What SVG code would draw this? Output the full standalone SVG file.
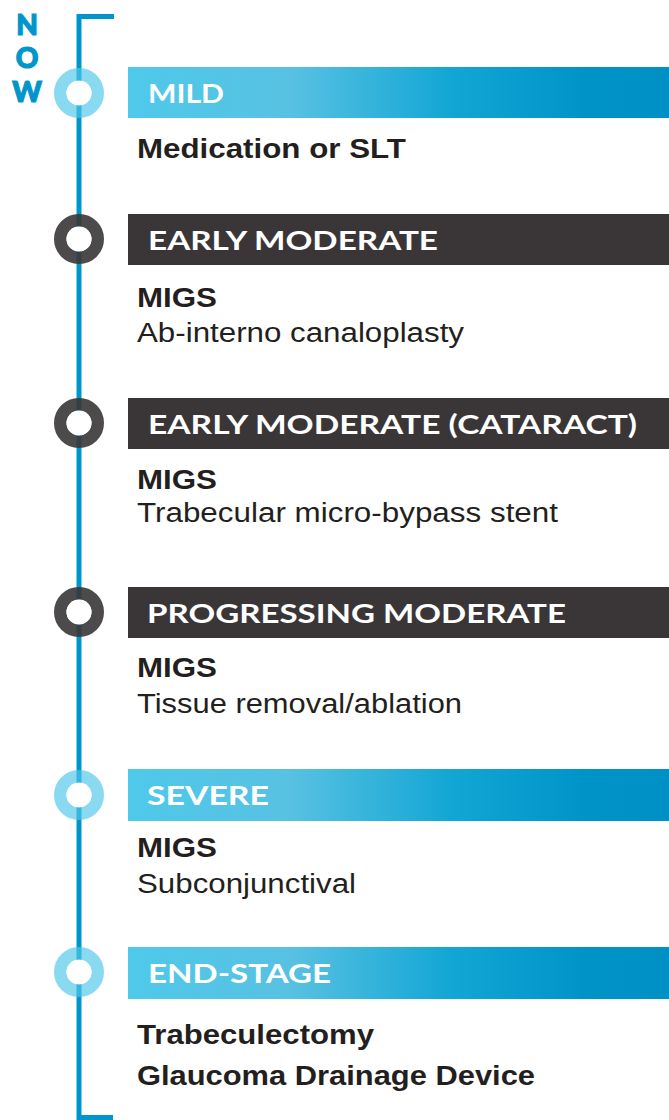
<svg xmlns="http://www.w3.org/2000/svg" width="669" height="1120" viewBox="0 0 669 1120">
<defs>
<linearGradient id="blueGrad" x1="0" y1="0" x2="1" y2="0">
<stop offset="0" stop-color="#4FC9EA"/>
<stop offset="0.3" stop-color="#58C1E2"/>
<stop offset="0.6" stop-color="#12A6D4"/>
<stop offset="0.85" stop-color="#0093C8"/>
<stop offset="1" stop-color="#0090C6"/>
</linearGradient>
<style>
.bannerB{fill:url(#blueGrad);}
.bannerD{fill:#3A3637;}
.label{font-family:Lato,"Open Sans",sans-serif;font-weight:700;font-size:27px;fill:#FFFFFF;}
.bold{font-family:"Liberation Sans",Arial,sans-serif;font-weight:700;font-size:27px;fill:#231F20;}
.reg{font-family:"Liberation Sans",Arial,sans-serif;font-weight:400;font-size:27px;fill:#231F20;}
.now{font-family:Lato,"Open Sans",sans-serif;font-weight:900;font-size:28px;fill:#0096CB;stroke:#0096CB;stroke-width:1.2px;}
.ringL{fill:none;stroke:#4FC6EA;stroke-opacity:0.67;stroke-width:12.5;}
.ringD{fill:none;stroke:#3A3637;stroke-opacity:0.9;stroke-width:12.5;}
.hole{fill:#FFFFFF;}
</style>
</defs>
<rect width="669" height="1120" fill="#FFFFFF"/>
<g id="now">
<text class="now" x="27" y="35" text-anchor="middle">N</text>
<text class="now" x="27" y="68" text-anchor="middle">O</text>
<text class="now" x="27" y="102" text-anchor="middle">W</text>
</g>
<g id="connectors">
<path d="M114,16.5 H79 V1117.5 H113" fill="none" stroke="#0096CB" stroke-width="5"/>
</g>
<g id="mild">
<circle class="ringL" cx="79" cy="93" r="18.75"/>
<circle class="hole" cx="79" cy="93" r="12.5"/>
<rect class="bannerB" x="128" y="67" width="541" height="51"/>
<text class="label" x="148" y="103" textLength="76" lengthAdjust="spacingAndGlyphs">MILD</text>
<text class="bold" x="137" y="158" textLength="269" lengthAdjust="spacingAndGlyphs">Medication or SLT</text>
</g>
<g id="early-moderate">
<circle class="ringD" cx="79" cy="239" r="18.75"/>
<circle class="hole" cx="79" cy="239" r="12.5"/>
<rect class="bannerD" x="128" y="214" width="541" height="51"/>
<text class="label" x="148" y="249.5" textLength="290" lengthAdjust="spacingAndGlyphs">EARLY MODERATE</text>
<text class="bold" x="137" y="307" textLength="80" lengthAdjust="spacingAndGlyphs">MIGS</text>
<text class="reg" x="137" y="342" textLength="327" lengthAdjust="spacingAndGlyphs">Ab-interno canaloplasty</text>
</g>
<g id="early-moderate-cataract">
<circle class="ringD" cx="79" cy="423" r="18.75"/>
<circle class="hole" cx="79" cy="423" r="12.5"/>
<rect class="bannerD" x="128" y="398" width="541" height="51"/>
<text class="label" x="148" y="433.5" textLength="489" lengthAdjust="spacingAndGlyphs">EARLY MODERATE (CATARACT)</text>
<text class="bold" x="137" y="489" textLength="80" lengthAdjust="spacingAndGlyphs">MIGS</text>
<text class="reg" x="137" y="522" textLength="421" lengthAdjust="spacingAndGlyphs">Trabecular micro-bypass stent</text>
</g>
<g id="progressing-moderate">
<circle class="ringD" cx="79" cy="612" r="18.75"/>
<circle class="hole" cx="79" cy="612" r="12.5"/>
<rect class="bannerD" x="128" y="587" width="541" height="51"/>
<text class="label" x="147" y="622.5" textLength="419" lengthAdjust="spacingAndGlyphs">PROGRESSING MODERATE</text>
<text class="bold" x="137" y="677" textLength="80" lengthAdjust="spacingAndGlyphs">MIGS</text>
<text class="reg" x="137" y="713" textLength="325" lengthAdjust="spacingAndGlyphs">Tissue removal/ablation</text>
</g>
<g id="severe">
<circle class="ringL" cx="79" cy="795" r="18.75"/>
<circle class="hole" cx="79" cy="795" r="12.5"/>
<rect class="bannerB" x="128" y="769" width="541" height="52"/>
<text class="label" x="147" y="805" textLength="122" lengthAdjust="spacingAndGlyphs">SEVERE</text>
<text class="bold" x="137" y="857" textLength="80" lengthAdjust="spacingAndGlyphs">MIGS</text>
<text class="reg" x="137" y="893" textLength="219" lengthAdjust="spacingAndGlyphs">Subconjunctival</text>
</g>
<g id="end-stage">
<circle class="ringL" cx="79" cy="972" r="18.75"/>
<circle class="hole" cx="79" cy="972" r="12.5"/>
<rect class="bannerB" x="128" y="947" width="541" height="52"/>
<text class="label" x="148" y="983" textLength="183" lengthAdjust="spacingAndGlyphs">END-STAGE</text>
<text class="bold" x="137" y="1044" textLength="237" lengthAdjust="spacingAndGlyphs">Trabeculectomy</text>
<text class="bold" x="137" y="1085" textLength="398" lengthAdjust="spacingAndGlyphs">Glaucoma Drainage Device</text>
</g>
</svg>
